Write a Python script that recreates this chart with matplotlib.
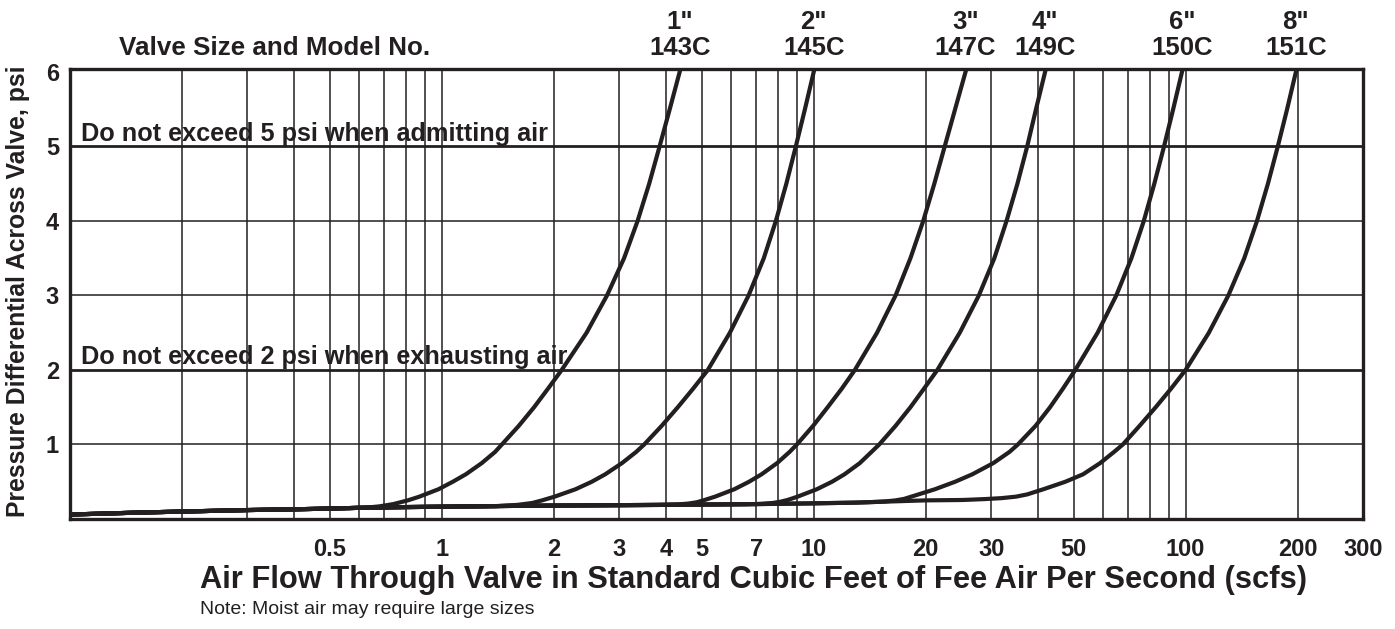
import matplotlib
matplotlib.use("Agg")
import matplotlib.pyplot as plt
from matplotlib.transforms import blended_transform_factory

plt.rcParams['font.family'] = ['Liberation Sans', 'DejaVu Sans']

ink = '#231f20'

# low-flow part shared by all curves (scfs, psi)
base_flow = [0.1, 0.15, 0.2, 0.3, 0.4, 0.5, 0.6, 0.8, 1.0, 1.5, 2.0, 4.0, 7.0, 10.0, 13.0, 16.0, 20.0, 25.0, 30.0]
base_psi = [0.06, 0.085, 0.10, 0.12, 0.13, 0.14, 0.15, 0.16, 0.165, 0.175, 0.18, 0.19, 0.20, 0.21, 0.22, 0.235, 0.25, 0.255, 0.27]

# rising part of each valve curve
c143_flow = [0.62, 0.68, 0.74, 0.81, 0.87, 0.98, 1.07, 1.16, 1.28, 1.39, 1.45, 1.61, 1.77, 1.93,
             2.1, 2.45, 2.78, 3.09, 3.36, 3.61, 3.85, 4.10, 4.36]
c143_psi = [0.15, 0.17, 0.20, 0.25, 0.30, 0.40, 0.50, 0.60, 0.75, 0.90, 1.0, 1.25, 1.5, 1.75,
            2.0, 2.5, 3.0, 3.5, 4.0, 4.5, 5.0, 5.5, 6.0]

c145_flow = [1.4, 1.6, 1.75, 1.86, 2.01, 2.29, 2.53, 2.75, 3.05, 3.33, 3.5, 3.9, 4.31, 4.74,
             5.19, 5.95, 6.68, 7.34, 7.91, 8.44, 8.95, 9.47, 10.0]
c145_psi = [0.172, 0.19, 0.215, 0.25, 0.30, 0.40, 0.50, 0.60, 0.75, 0.90, 1.0, 1.25, 1.5, 1.75,
            2.0, 2.5, 3.0, 3.5, 4.0, 4.5, 5.0, 5.5, 6.0]

c147_flow = [3.8, 4.3, 4.6, 4.85, 5.05, 5.43, 6.12, 6.7, 7.24, 7.97, 8.61, 9.01, 9.96, 10.9, 11.9,
             12.9, 14.8, 16.6, 18.2, 19.7, 21.1, 22.5, 24.0, 25.6]
c147_psi = [0.188, 0.195, 0.207, 0.225, 0.25, 0.30, 0.40, 0.50, 0.60, 0.75, 0.90, 1.0, 1.25, 1.5, 1.75,
            2.0, 2.5, 3.0, 3.5, 4.0, 4.5, 5.0, 5.5, 6.0]

c149_flow = [6.5, 7.2, 7.75, 8.1, 8.5, 9.05, 10.2, 11.2, 12.1, 13.3, 14.3, 15.0, 16.6, 18.2, 19.8,
             21.5, 24.7, 27.8, 30.6, 33.0, 35.3, 37.5, 39.6, 41.9]
c149_psi = [0.197, 0.203, 0.215, 0.23, 0.255, 0.30, 0.40, 0.50, 0.60, 0.75, 0.90, 1.0, 1.25, 1.5, 1.75,
            2.0, 2.5, 3.0, 3.5, 4.0, 4.5, 5.0, 5.5, 6.0]

c150_flow = [14.0, 15.5, 16.6, 17.5, 18.3, 21.2, 24.0, 26.7, 30.4, 33.6, 35.4, 39.5, 43.2, 46.8,
             50.5, 58.0, 65.1, 71.5, 77.2, 82.4, 87.5, 92.6, 97.8]
c150_psi = [0.225, 0.235, 0.25, 0.27, 0.30, 0.40, 0.50, 0.60, 0.75, 0.90, 1.0, 1.25, 1.5, 1.75,
            2.0, 2.5, 3.0, 3.5, 4.0, 4.5, 5.0, 5.5, 6.0]

c151_flow = [26.0, 29.0, 32.0, 35.0, 37.5, 41.5, 47.5, 53.0, 58.9, 64.2, 67.8, 75.2, 83.1, 91.4,
             100.0, 115.5, 130.3, 143.8, 155.6, 166.5, 177.0, 187.5, 198.0]
c151_psi = [0.258, 0.268, 0.28, 0.30, 0.33, 0.40, 0.50, 0.60, 0.75, 0.90, 1.0, 1.25, 1.5, 1.75,
            2.0, 2.5, 3.0, 3.5, 4.0, 4.5, 5.0, 5.5, 6.0]

sizes = ['1"', '2"', '3"', '4"', '6"', '8"']
models = ['143C', '145C', '147C', '149C', '150C', '151C']
curves = [(c143_flow, c143_psi), (c145_flow, c145_psi), (c147_flow, c147_psi),
          (c149_flow, c149_psi), (c150_flow, c150_psi), (c151_flow, c151_psi)]

grid_flow = [0.2, 0.3, 0.4, 0.5, 0.6, 0.7, 0.8, 0.9, 1,
             2, 3, 4, 5, 6, 7, 8, 9, 10,
             20, 30, 40, 50, 60, 70, 80, 90, 100, 200]
grid_psi = [1, 2, 3, 4, 5]
limit_psi = [5, 2]
limit_text = ['Do not exceed 5 psi when admitting air',
              'Do not exceed 2 psi when exhausting air']

xtick_vals = [0.5, 1, 2, 3, 4, 5, 7, 10, 20, 30, 50, 100, 200, 300]
xtick_labels = ['0.5', '1', '2', '3', '4', '5', '7', '10', '20', '30', '50', '100', '200', '300']
ytick_vals = [1, 2, 3, 4, 5, 6]

fig = plt.figure(figsize=(13.95, 6.29), dpi=100)
ax = fig.add_axes([70 / 1395, 1 - 519 / 629, 1293 / 1395, 450 / 629])
ax.set_xscale('log')
ax.set_xlim(0.1, 295)
ax.set_ylim(0, 6.04)

# grid
for gx in grid_flow:
    ax.axvline(gx, color=ink, lw=1.1, zorder=1)
for gy in grid_psi:
    lw = 2.0 if gy in limit_psi else 1.1
    ax.axhline(gy, color=ink, lw=lw, zorder=1)

# curves
for flow, psi in curves:
    xs = [f for f in base_flow if f < flow[0]] + list(flow)
    ys = [p for f, p in zip(base_flow, base_psi) if f < flow[0]] + list(psi)
    ax.plot(xs, ys, color=ink, lw=3.0, solid_joinstyle='round', zorder=3)

# limit notes
for ly, txt in zip(limit_psi, limit_text):
    ax.text(0.0085, ly + 0.08, txt, transform=blended_transform_factory(ax.transAxes, ax.transData),
            ha='left', va='baseline', fontsize=18.2, fontweight='bold', color=ink, zorder=4)

# header labels above curve tops
top = blended_transform_factory(ax.transData, fig.transFigure)
for (flow, psi), sz, mdl in zip(curves, sizes, models):
    ax.text(flow[-1], 1 - 22 / 629, sz, transform=top, ha='center', va='center',
            fontsize=18.5, fontweight='bold', color=ink)
    ax.text(flow[-1], 1 - 48 / 629, mdl, transform=top, ha='center', va='center',
            fontsize=18.5, fontweight='bold', color=ink)
fig.text(430 / 1395, 1 - 48 / 629, 'Valve Size and Model No.', ha='right', va='center',
         fontsize=18.7, fontweight='bold', color=ink)

ax.set_xticks(xtick_vals)
ax.set_xticklabels(xtick_labels)
ax.xaxis.set_minor_locator(matplotlib.ticker.NullLocator())
ax.set_yticks(ytick_vals)
ax.tick_params(axis='both', length=0, colors=ink)
ax.tick_params(axis='x', pad=14, labelsize=17)
ax.tick_params(axis='y', pad=8, labelsize=17)
for lab in ax.get_xticklabels() + ax.get_yticklabels():
    lab.set_fontweight('bold')

for sp in ax.spines.values():
    sp.set_linewidth(2.4)
    sp.set_color(ink)

fig.text(18 / 1395, 1 - 291 / 629, 'Pressure Differential Across Valve, psi', rotation=90,
         ha='center', va='center', fontsize=17.8, fontweight='bold', color=ink)
fig.text(200 / 1395, 1 - 580 / 629,
         'Air Flow Through Valve in Standard Cubic Feet of Fee Air Per Second (scfs)',
         ha='left', va='center', fontsize=22.2, fontweight='bold', color=ink)
fig.text(200 / 1395, 1 - 610 / 629, 'Note: Moist air may require large sizes',
         ha='left', va='center', fontsize=14, color=ink)

fig.savefig('out.png', dpi=100)
